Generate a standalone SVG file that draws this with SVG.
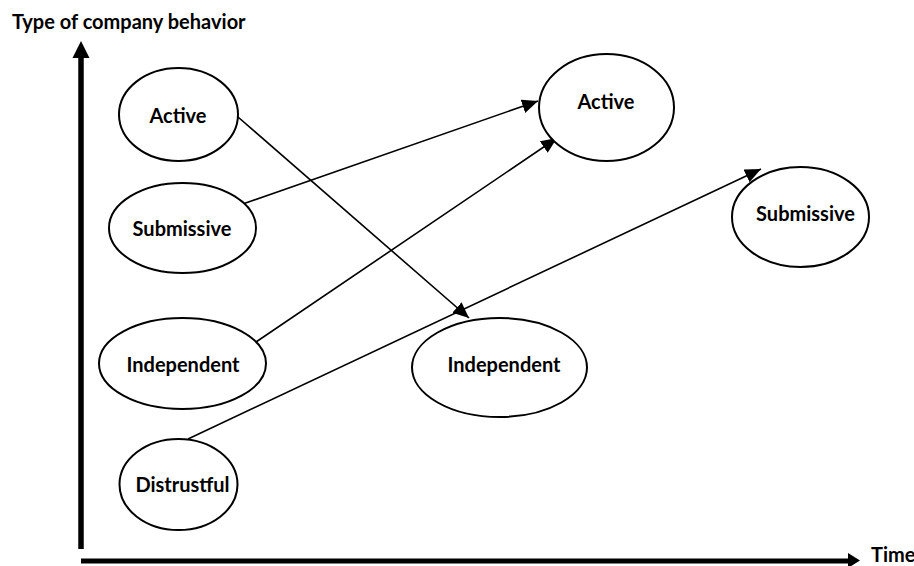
<svg xmlns="http://www.w3.org/2000/svg" width="914" height="566" viewBox="0 0 914 566">
<style>
.node ellipse{fill:#fff;stroke:#000;stroke-width:2}
text{font-family:"Lato","Liberation Sans",sans-serif;font-weight:bold;font-size:20px;fill:#000}
.node text{text-anchor:middle}
#connectors line{stroke:#000;stroke-width:1.6;marker-end:url(#ah)}
</style>
<defs>
<marker id="ah" markerUnits="userSpaceOnUse" markerWidth="18" markerHeight="16" refX="16" refY="7" orient="auto">
<path d="M0,0 L16,7 L0,14 z" fill="#000"/>
</marker>
</defs>
<rect width="914" height="566" fill="#fff"/>
<g id="axes">
<line x1="81" y1="56" x2="81" y2="549" stroke="#000" stroke-width="5.5"/>
<polygon points="81,41 72.5,58 89.5,58" fill="#000"/>
<line x1="81" y1="561" x2="851" y2="561" stroke="#000" stroke-width="5"/>
<polygon points="848,553 848,568 860,560.5" fill="#000"/>
<text x="12" y="29">Type of company behavior</text>
<text x="871" y="562">Time</text>
</g>
<g id="connectors">
<line x1="238" y1="117" x2="469" y2="318"/>
<line x1="237" y1="206" x2="538" y2="101"/>
<line x1="256" y1="342" x2="557" y2="138"/>
<line x1="188" y1="439" x2="761" y2="169"/>
</g>
<g id="active-left" class="node"><ellipse cx="178.5" cy="114.5" rx="59.5" ry="46.5"/><text x="178" y="123">Active</text></g>
<g id="submissive-left" class="node"><ellipse cx="182.5" cy="228" rx="73.5" ry="45"/><text x="182" y="236">Submissive</text></g>
<g id="independent-left" class="node"><ellipse cx="182.5" cy="363.5" rx="83.5" ry="45.5"/><text x="183" y="372">Independent</text></g>
<g id="distrustful" class="node"><ellipse cx="178.5" cy="484.5" rx="59" ry="45.5"/><text x="182.5" y="492">Distrustful</text></g>
<g id="active-right" class="node"><ellipse cx="606.5" cy="107.5" rx="67.5" ry="53.5"/><text x="606" y="109">Active</text></g>
<g id="submissive-right" class="node"><ellipse cx="800.5" cy="217" rx="68.5" ry="50"/><text x="805.5" y="221">Submissive</text></g>
<g id="independent-right" class="node"><ellipse cx="499.5" cy="367.5" rx="87.5" ry="49.5"/><text x="504" y="372">Independent</text></g>
</svg>
